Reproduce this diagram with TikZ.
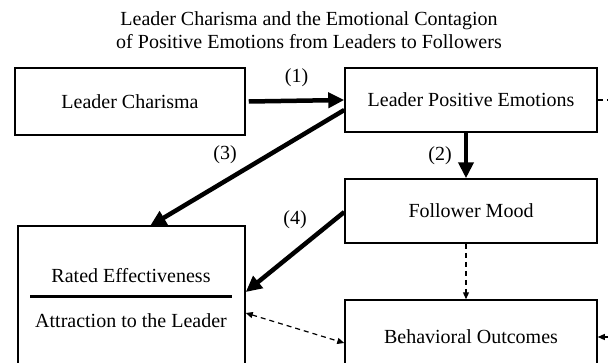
\documentclass[tikz,border=0pt]{standalone}
\usepackage{fontspec}
\setmainfont{Liberation Serif}
\usetikzlibrary{arrows.meta}
\tikzset{
  box/.style={draw,line width=1.5pt,minimum width=252pt,minimum height=64pt,inner sep=0pt},
  heavy/.style={line width=4.5pt,-{Triangle[length=16pt,width=15pt]}},
  dasharrow/.style={dashed,line width=1.2pt,dash pattern=on 5pt off 4pt,-{Triangle[length=7pt,width=6pt]}},
  lab/.style={inner sep=0pt}
}
\begin{document}
\begin{tikzpicture}[x=1pt,y=-1pt,font=\fontsize{20}{23}\selectfont]
        \useasboundingbox (0,0) rectangle (608,362);
        \clip (0,0) rectangle (608,362);
        % title
        \node[lab,align=center] (title) at (309,30) {Leader Charisma and the Emotional Contagion\\of Positive Emotions from Leaders to Followers};
        % boxes
        \node[box,minimum width=230pt,minimum height=67pt] (lc) at (130,101.5) {Leader Charisma};
        \node[box] (lpe) at (471,100) {Leader Positive Emotions};
        \node[box] (fm) at (471,211) {Follower Mood};
        \node[box,minimum width=227pt,minimum height=180pt] (rated) at (131.5,316) {};
        \node[box,minimum height=74pt] (bo) at (471,337) {Behavioral Outcomes};
        \node[lab] (eff) at (131,276) {Rated Effectiveness};
        \node[lab] (attr) at (131,321) {Attraction to the Leader};
        \draw[line width=3pt] (30,296) -- (232,296);
        % paths
        \draw[heavy] ([xshift=3pt]lc.east) -- (lpe.west) node[lab,midway,above=12pt] (n1) {(1)};
        \draw[heavy] ([xshift=-5pt]lpe.south) -- ([xshift=-5pt]fm.north) node[lab,midway,left=12pt] (n2) {(2)};
        \draw[heavy] ([yshift=-10pt]lpe.west) -- (150,226);
        \node[lab] (n3) at (225,155) {(3)};
        \draw[heavy] ([yshift=-1pt]fm.west) -- (rated.east |- 0,292);
        \node[lab] (n4) at (295,220) {(4)};
        \draw[dasharrow] ([xshift=-5pt]fm.south) -- ([xshift=-5pt]bo.north);
        \draw[dasharrow,{Triangle[length=7pt,width=6pt]}-{Triangle[length=7pt,width=6pt]}] (rated.east |- 0,313) -- (bo.west |- 0,343);
        \draw[dasharrow] (lpe.east) -- (625,100) -- (625,337) -- (bo.east);
\end{tikzpicture}
\end{document}
